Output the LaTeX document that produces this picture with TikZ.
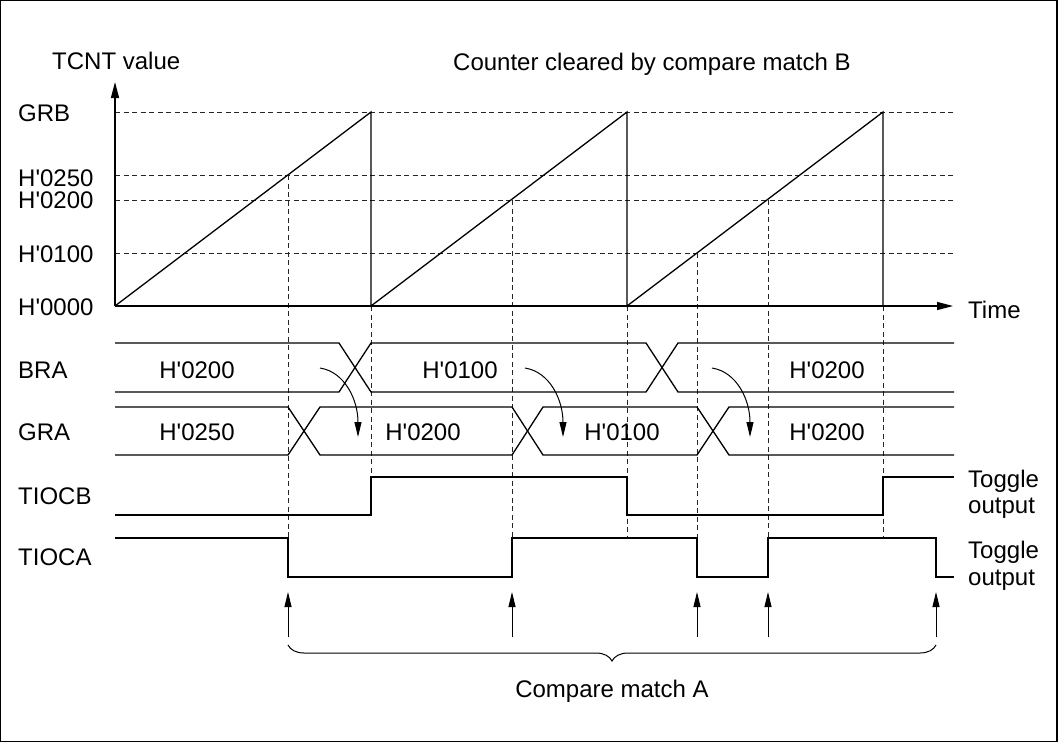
\documentclass[tikz,border=0pt]{standalone}
\usepackage{fontspec}
\setmainfont{Liberation Sans}
\usetikzlibrary{arrows.meta,decorations.pathreplacing}
\newcommand{\hq}{H\textquotesingle}
\begin{document}
\begin{tikzpicture}[x=1pt,y=-1pt,
  sig/.style={line width=1.3pt, line join=miter},
  guide/.style={line width=0.9pt, dash pattern=on 5pt off 3.5pt, black!85},
  axisarrow/.style={sig,-{Triangle[length=16pt,width=8pt]}},
  thinarrow/.style={line width=1pt,-{Triangle[length=15pt,width=7pt]}},
  lbl/.style={anchor=base west, inner sep=0pt, font=\fontsize{24pt}{28pt}\selectfont},
  val/.style={anchor=base, inner sep=0pt, font=\fontsize{24pt}{28pt}\selectfont}]
\useasboundingbox (0,0) rectangle (1064,742);
\draw[line width=1.3pt] (0.65,0.65) rectangle (1057,741.35);

% horizontal guides
\foreach \yy in {112,175,200,253}
  \draw[guide] (115,\yy) -- (954,\yy);

% vertical guides
\draw[guide] (288,175) -- (288,538);
\draw[guide] (371,306) -- (371,477);
\draw[guide] (512,200) -- (512,538);
\draw[guide] (627,306) -- (627,538);
\draw[guide] (697,253) -- (697,538);
\draw[guide] (768,200) -- (768,538);
\draw[guide] (883,306) -- (883,538);

% axes
\draw[axisarrow] (115,306) -- (115,82);
\draw[axisarrow] (115,306) -- (953,306);

% sawtooth
\draw[sig] (115,306) -- (371,112) -- (371,306) -- (627,112) -- (627,306) -- (883,112) -- (883,306);

% BRA bus
\draw[sig] (115,343) -- (339,343) -- (371,392) -- (646,392) -- (678,343) -- (954,343);
\draw[sig] (115,392) -- (339,392) -- (371,343) -- (646,343) -- (678,392) -- (954,392);
% GRA bus
\draw[sig] (115,407) -- (288,407) -- (320,455) -- (512,455) -- (543,407) -- (697,407) -- (729,455) -- (954,455);
\draw[sig] (115,455) -- (288,455) -- (320,407) -- (512,407) -- (543,455) -- (697,455) -- (729,407) -- (954,407);

% TIOCB
\draw[sig] (115,515) -- (371,515) -- (371,477) -- (627,477) -- (627,515) -- (883,515) -- (883,477) -- (954,477);
% TIOCA
\draw[sig] (115,538) -- (288,538) -- (288,577) -- (512,577) -- (512,538) -- (697,538) -- (697,577) -- (768,577) -- (768,538) -- (936,538) -- (936,577) -- (954,577);

% transfer arrows BRA -> GRA
\foreach \sx in {320,525,712}
  \draw[thinarrow] (\sx,368) .. controls (\sx+25,372) and (\sx+38,400) .. (\sx+38,437);

% compare match A arrows
\foreach \ax in {288,512,697,768,936}
  \draw[thinarrow] (\ax,637) -- (\ax,592);

% brace
\draw[line width=1pt, decorate, decoration={brace, amplitude=16pt, mirror}] (288,645) -- (936,645);

% labels
\node[lbl] (tcnt) at (52,69) {TCNT value};
\node[lbl] (cleared) at (453,70) {Counter cleared by compare match B};
\node[lbl] (grb) at (18,121) {GRB};
\node[lbl] (h250) at (18,186) {\hq0250};
\node[lbl] (h200) at (18,208) {\hq0200};
\node[lbl] (h100) at (18,262) {\hq0100};
\node[lbl] (h000) at (18,315) {\hq0000};
\node[lbl] (time) at (968,318) {Time};
\node[lbl] (bra) at (18,378) {BRA};
\node[lbl] (gra) at (18,440) {GRA};
\node[lbl] (tiocb) at (18,504) {TIOCB};
\node[lbl] (tioca) at (18,565) {TIOCA};

\node[val] (bra1) at (197,378) {\hq0200};
\node[val] (bra2) at (460,378) {\hq0100};
\node[val] (bra3) at (827,378) {\hq0200};
\node[val] (gra1) at (197,440) {\hq0250};
\node[val] (gra2) at (423,440) {\hq0200};
\node[val] (gra3) at (622,440) {\hq0100};
\node[val] (gra4) at (827,440) {\hq0200};

\node[lbl] (tgb1) at (968,487) {Toggle};
\node[lbl] (tgb2) at (968,513) {output};
\node[lbl] (tga1) at (968,558) {Toggle};
\node[lbl] (tga2) at (968,585) {output};

\node[val] (cma) at (612,697) {Compare match A};
\end{tikzpicture}
\end{document}
